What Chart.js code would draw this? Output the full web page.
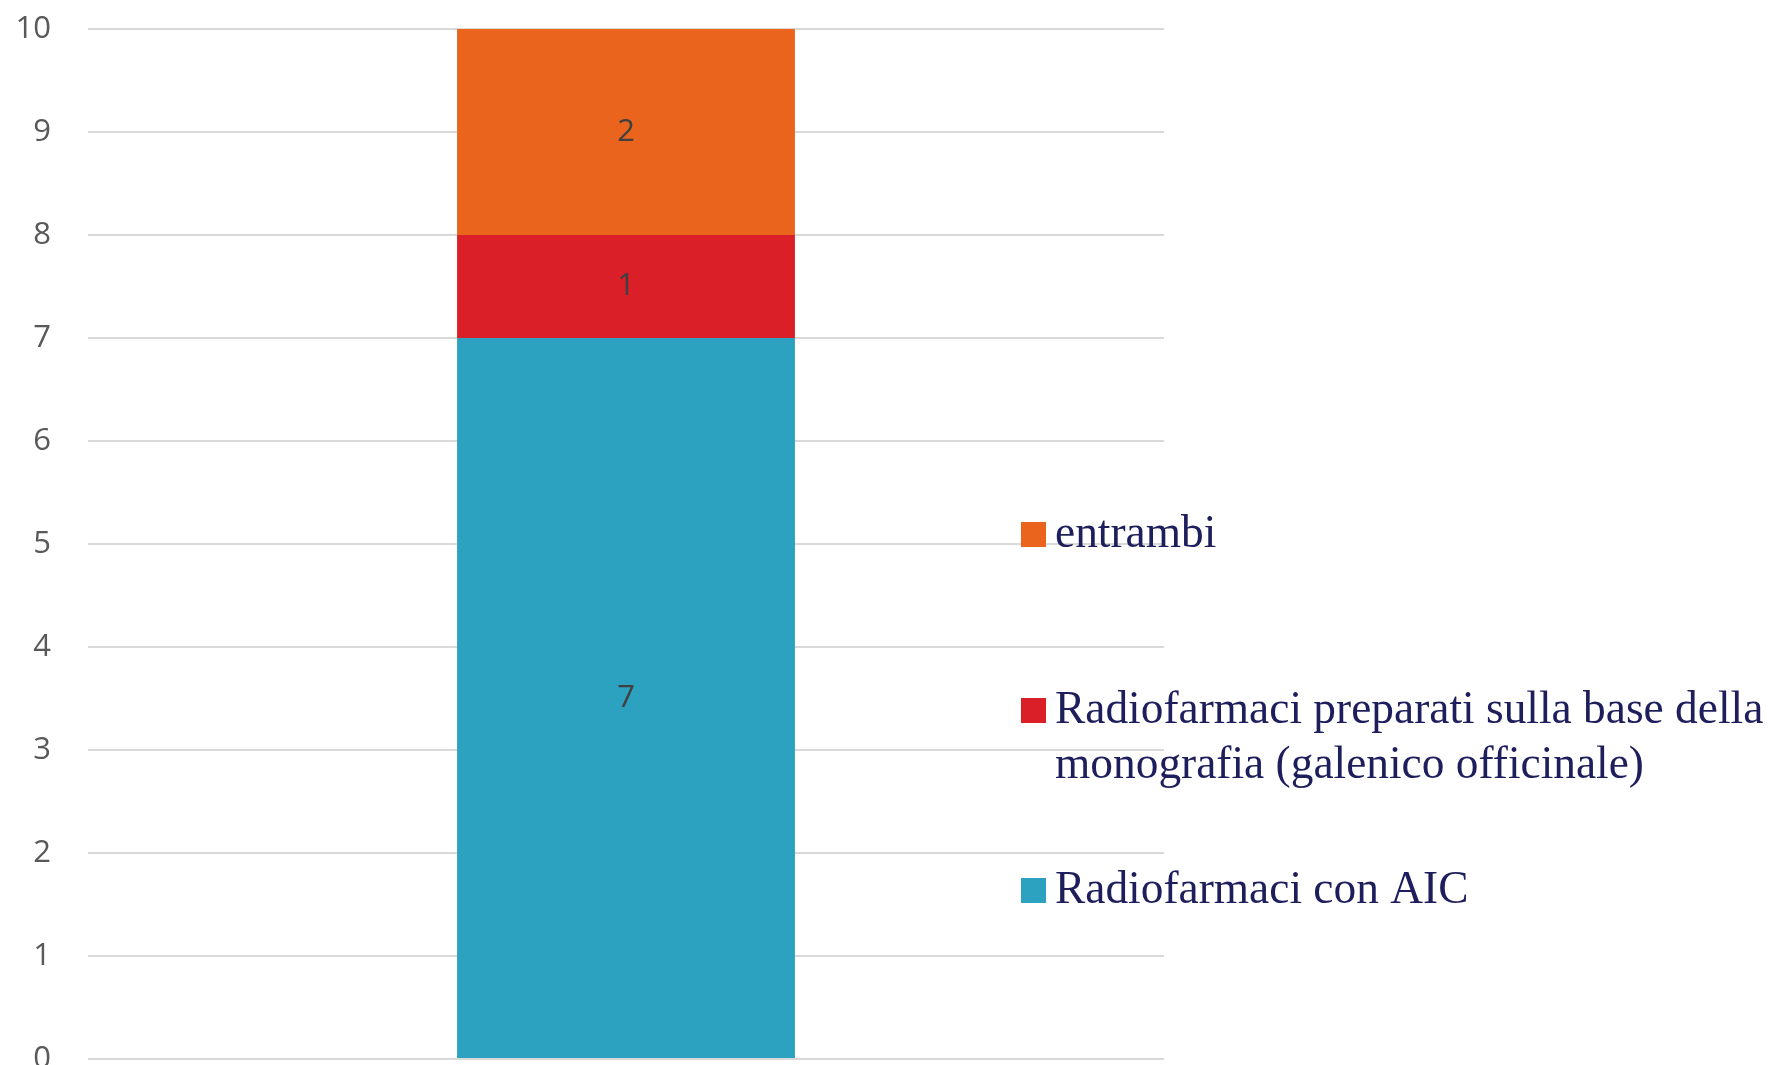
<!DOCTYPE html>
<html><head><meta charset="utf-8">
<script src="https://cdn.jsdelivr.net/npm/chart.js@4.4.1/dist/chart.umd.min.js"></script>
<style>html,body{margin:0;padding:0;background:#fff;overflow:hidden}canvas{display:block}</style>
</head><body><canvas id="c" width="1773" height="1065"></canvas>
<script>
// ---- data ----
const categories = [''];
const seriesNames = [
  'Radiofarmaci con AIC',
  ['Radiofarmaci preparati sulla base della', 'monografia (galenico officinale)'],
  'entrambi'
];
const aicValues = [7];
const monografiaValues = [1];
const entrambiValues = [2];
const yTickLabels = ['0','1','2','3','4','5','6','7','8','9','10'];
const seriesColors = ['#2CA2C0', '#DA1F28', '#EA641E'];

const valueLists = [aicValues, monografiaValues, entrambiValues];

const segmentLabels = {
  id: 'segmentLabels',
  afterDatasetsDraw(chart) {
    const ctx = chart.ctx;
    ctx.save();
    ctx.font = '31px "Open Sans"';
    ctx.fillStyle = '#404040';
    ctx.textAlign = 'center';
    ctx.textBaseline = 'middle';
    chart.data.datasets.forEach((ds, i) => {
      const meta = chart.getDatasetMeta(i);
      meta.data.forEach((el, j) => {
        ctx.fillText(String(ds.data[j]), el.x, (el.y + el.base) / 2);
      });
    });
    ctx.restore();
  }
};

const sideLegend = {
  id: 'sideLegend',
  afterDraw(chart) {
    const ctx = chart.ctx;
    const baselines = [547, 723, 903];
    const lineH = 55;
    const boxX = 1021, box = 25, textX = 1055;
    ctx.save();
    ctx.font = '45.4px "Liberation Serif"';
    ctx.textAlign = 'left';
    ctx.textBaseline = 'alphabetic';
    const order = [2, 1, 0];
    order.forEach((dsIndex, k) => {
      const ds = chart.data.datasets[dsIndex];
      const lines = Array.isArray(seriesNames[dsIndex]) ? seriesNames[dsIndex] : [seriesNames[dsIndex]];
      const by = baselines[k];
      ctx.fillStyle = ds.backgroundColor;
      ctx.fillRect(boxX, by - box, box, box);
      ctx.fillStyle = '#1E1E5C';
      lines.forEach((t, li) => ctx.fillText(t, textX, by + li * lineH));
    });
    ctx.restore();
  }
};

new Chart(document.getElementById('c'), {
  type: 'bar',
  data: {
    labels: categories,
    datasets: valueLists.map((vals, i) => ({
      label: Array.isArray(seriesNames[i]) ? seriesNames[i].join(' ') : seriesNames[i],
      data: vals,
      backgroundColor: seriesColors[i],
      borderWidth: 0,
      barPercentage: 0.314,
      categoryPercentage: 1
    }))
  },
  options: {
    responsive: false,
    animation: false,
    devicePixelRatio: 1,
    layout: { padding: { top: 29, bottom: 6, left: 0, right: 609 } },
    plugins: { legend: { display: false }, tooltip: { enabled: false } },
    scales: {
      x: { stacked: true, display: false },
      y: {
        stacked: true,
        min: 0, max: 10,
        ticks: {
          stepSize: 1,
          padding: 37,
          color: '#595959',
          font: { family: 'Open Sans', size: 31 },
          callback: (v) => yTickLabels[v]
        },
        grid: { color: '#D9D9D9', lineWidth: 2, drawTicks: false },
        border: { display: false },
        afterFit(s) { s.width = 88; s.paddingTop = 0; s.paddingBottom = 0; }
      }
    }
  },
  plugins: [segmentLabels, sideLegend]
});
</script>
</body></html>
